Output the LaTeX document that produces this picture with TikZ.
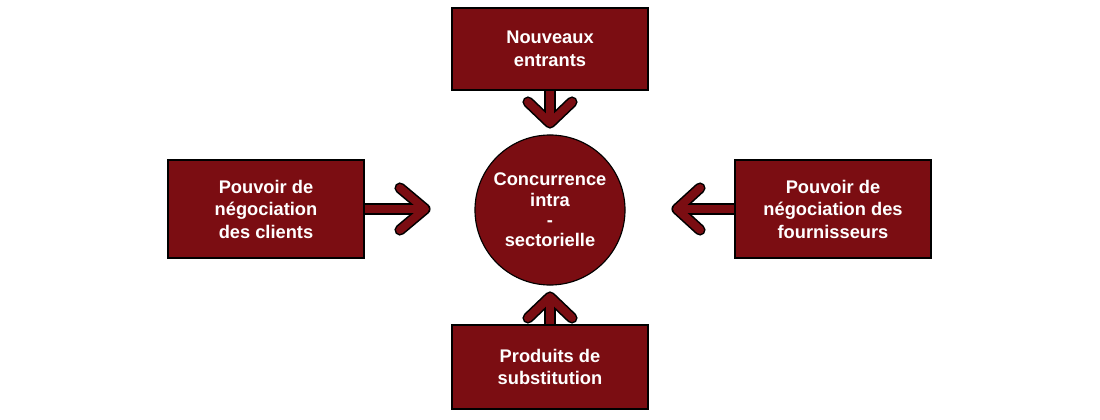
\documentclass[tikz,border=0pt]{standalone}
\usepackage{fontspec}
\setmainfont{Liberation Sans}
\definecolor{porter}{HTML}{7B0D12}
\begin{document}
\begin{tikzpicture}[
    x=0.025cm, y=-0.025cm,
    force/.style={rectangle, draw, thick, fill=porter, text=white, font=\bfseries\fontsize{13}{16}\selectfont, align=center, minimum width=4.9cm, minimum height=2.1cm, inner sep=2pt},
    rivalry/.style={circle, draw, thick, fill=porter, text=white, font=\bfseries\fontsize{13}{14.5}\selectfont, align=center, minimum size=3.75cm, inner sep=0pt},
    outline/.style={draw=black, line width=0.28cm, line join=round},
    inner/.style={draw=porter, line width=0.2cm, line join=round}
]
\useasboundingbox (0,0) rectangle (1100,420);

% Forces
\node[force, minimum height=2.05cm] (entrants) at (550,49) {Nouveaux\\entrants};
\node[force, minimum height=2.45cm] (clients) at (266,209) {Pouvoir de\\négociation\\des clients};
\node[force, minimum height=2.45cm] (fourn) at (833,209) {Pouvoir de\\négociation des\\fournisseurs};
\node[force, minimum height=2.1cm] (subst) at (550,367) {Produits de\\substitution};

% Centre
\node[rivalry] (centre) at (550,210) {Concurrence\\intra\\-\\sectorielle};

% Arrows
\foreach \s in {outline, inner} {
  \draw[\s] (clients.east) -- (421,209);
  \draw[\s, line cap=round] (400,188) -- (425,209) -- (400,230);
  \draw[\s] (fourn.west) -- (681,209);
  \draw[\s, line cap=round] (700,188) -- (677,209) -- (700,230);
  \draw[\s] (entrants.south) -- (550,119);
  \draw[\s, line cap=round] (528,102) -- (550,123) -- (572,102);
  \draw[\s] (subst.north) -- (550,301);
  \draw[\s, line cap=round] (528,318) -- (550,297) -- (572,318);
}
\end{tikzpicture}
\end{document}
